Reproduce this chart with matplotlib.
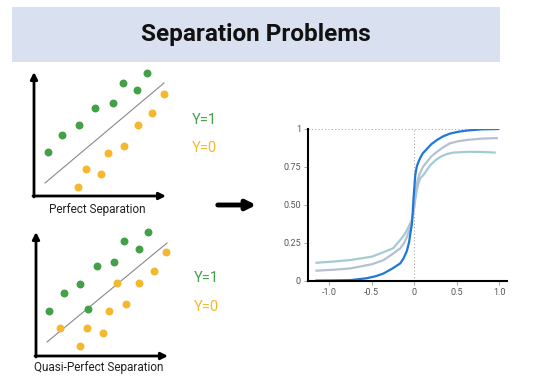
import matplotlib
matplotlib.use("Agg")
import matplotlib.pyplot as plt
from matplotlib.patches import Rectangle

plt.rcParams["font.family"] = ["Roboto", "DejaVu Sans"]

# ==========================================================
# DATA
# ==========================================================
title = "Separation Problems"

# perfect separation (panel units)
perf_green_x = [1.4, 2.8, 4.5, 6.1, 7.9, 8.9, 10.3, 11.3]
perf_green_y = [4.4, 6.1, 7.1, 8.8, 9.3, 11.3, 10.6, 12.3]
perf_orange_x = [4.4, 5.2, 6.7, 7.4, 9.0, 10.4, 11.8, 13.0]
perf_orange_y = [0.9, 2.7, 2.2, 4.3, 5.0, 7.1, 8.3, 10.2]
perf_line_x = [1.1, 13.0]
perf_line_y = [1.3, 11.3]

# quasi-perfect separation
quasi_green_x = [1.3, 2.8, 4.4, 6.1, 7.8, 8.8, 10.3, 11.2, 5.2]
quasi_green_y = [4.5, 6.3, 7.2, 9.0, 9.4, 11.5, 10.7, 12.4, 4.7]
quasi_orange_x = [2.4, 5.1, 6.7, 4.4, 7.3, 9.0, 8.1, 10.3, 11.8, 13.0]
quasi_orange_y = [2.8, 2.8, 2.3, 1.0, 4.5, 5.2, 7.3, 7.3, 8.5, 10.4]
quasi_line_x = [1.1, 13.1]
quasi_line_y = [1.4, 11.3]

# logistic curves
blue_x = [-1.15, -0.95, -0.75, -0.56, -0.45, -0.36, -0.25, -0.165, -0.125,
          -0.086, -0.06, -0.047, -0.027, -0.008, 0.005, 0.012, 0.03, 0.05,
          0.07, 0.1, 0.15, 0.2, 0.267, 0.34, 0.42, 0.52, 0.62, 0.8, 0.985]
blue_y = [0.003, 0.004, 0.006, 0.018, 0.032, 0.05, 0.085, 0.116, 0.15,
          0.20, 0.26, 0.31, 0.38, 0.55, 0.65, 0.70, 0.755, 0.785,
          0.81, 0.84, 0.87, 0.90, 0.928, 0.952, 0.97, 0.982, 0.99, 0.998, 1.0]
gray_x = [-1.15, -0.95, -0.75, -0.5, -0.36, -0.25, -0.165, -0.12, -0.086,
          -0.05, -0.03, -0.01, 0.01, 0.02, 0.04, 0.06, 0.1, 0.15, 0.2,
          0.267, 0.34, 0.42, 0.52, 0.62, 0.8, 0.97]
gray_y = [0.068, 0.074, 0.083, 0.11, 0.138, 0.18, 0.215, 0.25, 0.29,
          0.35, 0.40, 0.45, 0.55, 0.61, 0.665, 0.70, 0.75, 0.785, 0.82,
          0.85, 0.88, 0.906, 0.92, 0.928, 0.937, 0.94]
teal_x = [-1.15, -0.95, -0.75, -0.5, -0.36, -0.25, -0.165, -0.11, -0.067,
          -0.03, -0.01, 0.01, 0.03, 0.05, 0.07, 0.11, 0.19, 0.25, 0.31,
          0.38, 0.46, 0.64, 0.8, 0.945]
teal_y = [0.12, 0.128, 0.138, 0.16, 0.19, 0.215, 0.27, 0.31, 0.357,
          0.40, 0.45, 0.53, 0.60, 0.645, 0.675, 0.70, 0.763, 0.795, 0.818,
          0.835, 0.845, 0.85, 0.849, 0.845]

xticks = [-1.0, -0.5, 0, 0.5, 1.0]
xtick_labels = ["-1.0", "-0.5", "0", "0.5", "1.0"]
yticks = [0, 0.25, 0.5, 0.75, 1]
ytick_labels = ["0", "0.25", "0.50", "0.75", "1"]

GREEN = "#43a047"
ORANGE = "#f5b72c"
W, H = 540, 378

# ==========================================================
# FIGURE + OVERLAY (pixel coords)
# ==========================================================
fig = plt.figure(figsize=(W / 100, H / 100), dpi=100)
over = fig.add_axes([0, 0, 1, 1])
over.set_xlim(0, W)
over.set_ylim(H, 0)
over.axis("off")

over.add_patch(Rectangle((12, 7), 488, 55, color="#d9e0f0", lw=0))
over.text(256, 35, title, ha="center", va="center",
          fontsize=17.5, fontweight="bold", color="#111111")

over.annotate("", xy=(259, 205), xytext=(215, 205),
              arrowprops=dict(arrowstyle="-|>", lw=3.5, color="black",
                              mutation_scale=14))


# ==========================================================
# SCATTER PANELS
# ==========================================================
def panel(ox, oy, gx, gy, ox_, oy_, lx, ly, caption, cap_y, lab_y1, lab_y0):
    ax = fig.add_axes([ox / W, 1 - oy / H, 133 / W, 124 / H])
    ax.set_xlim(0, 13.3)
    ax.set_ylim(0, 12.4)
    ax.axis("off")
    ax.patch.set_alpha(0)
    ax.plot(lx, ly, color="#888888", lw=0.8)
    ax.scatter(gx, gy, s=22, color=GREEN, zorder=3, clip_on=False)
    ax.scatter(ox_, oy_, s=22, color=ORANGE, zorder=3, clip_on=False)
    ax.annotate("", xy=(13.2, 0), xytext=(-0.1, 0),
                arrowprops=dict(arrowstyle="-|>", lw=2, color="black",
                                mutation_scale=10, shrinkA=0, shrinkB=0))
    ax.annotate("", xy=(0, 12.4), xytext=(0, -0.1),
                arrowprops=dict(arrowstyle="-|>", lw=2, color="black",
                                mutation_scale=10, shrinkA=0, shrinkB=0))
    over.text(ox + 63, cap_y, caption, ha="center", va="center",
              fontsize=8.5, color="#222222")
    over.text(ox + 158, lab_y1, "Y=1", ha="left", va="center",
              fontsize=10.5, color=GREEN)
    over.text(ox + 158, lab_y0, "Y=0", ha="left", va="center",
              fontsize=10.5, color=ORANGE)


panel(34, 196, perf_green_x, perf_green_y, perf_orange_x, perf_orange_y,
      perf_line_x, perf_line_y, "Perfect Separation", 209, 120, 148)
panel(36, 356, quasi_green_x, quasi_green_y, quasi_orange_x, quasi_orange_y,
      quasi_line_x, quasi_line_y, "Quasi-Perfect Separation", 367, 278, 307)

# ==========================================================
# LOGISTIC CURVES
# ==========================================================
ax = fig.add_axes([308 / W, 1 - 281 / H, 199 / W, 152 / H])
ax.patch.set_alpha(0)
ax.set_xlim(-1.25, 1.09)
ax.set_ylim(0, 1)

ax.plot([-1.25, 1.0], [1, 1], color="#aaaaaa", lw=0.8, ls=(0, (1, 2)))
ax.plot([0, 0], [0, 1], color="#aaaaaa", lw=0.8, ls=(0, (1, 2)))

ax.plot(teal_x, teal_y, color="#a3cbd2", lw=1.6)
ax.plot(gray_x, gray_y, color="#b5c0d2", lw=1.6)
ax.plot(blue_x, blue_y, color="#1f78d4", lw=1.6)

for s in ["top", "right"]:
    ax.spines[s].set_visible(False)
for s in ["left", "bottom"]:
    ax.spines[s].set_linewidth(1.5)
    ax.spines[s].set_color("black")

ax.set_xticks(xticks)
ax.set_xticklabels(xtick_labels)
ax.set_yticks(yticks)
ax.set_yticklabels(ytick_labels)
ax.tick_params(length=3, width=0.6, color="#999999", labelsize=6.5,
               labelcolor="#555555", pad=2)

fig.savefig("out.png", dpi=100)
